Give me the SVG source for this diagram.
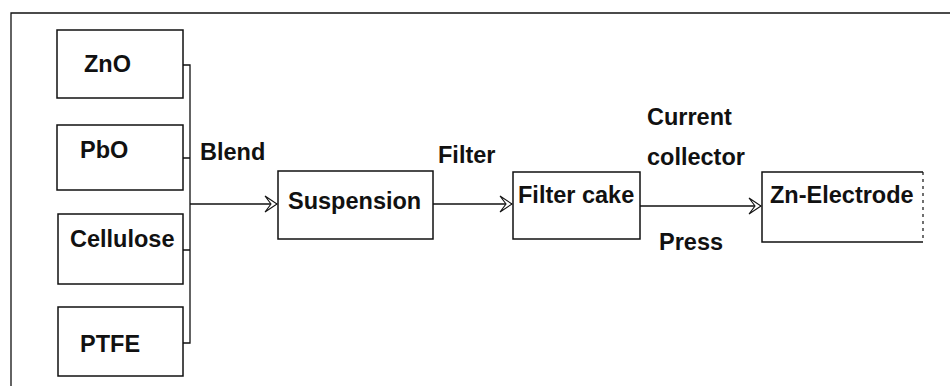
<svg xmlns="http://www.w3.org/2000/svg" width="950" height="386" viewBox="0 0 950 386">
<style>
.box{fill:#fff;stroke:#111;stroke-width:1.5}
.ln{fill:none;stroke:#111;stroke-width:1.3}
text{font-family:"Liberation Sans",Arial,sans-serif;font-weight:bold;font-size:23.5px;fill:#111}
</style>
<defs>
<marker id="ah" markerWidth="14" markerHeight="18" refX="13" refY="9" orient="auto" markerUnits="userSpaceOnUse">
<path d="M1,1 L13,9 L1,17 L7,9 Z" fill="#fff" stroke="#111" stroke-width="1.1" stroke-linejoin="miter"/>
</marker>
</defs>
<rect width="950" height="386" fill="#fff"/>
<path class="ln" d="M11,386 V13 H950" stroke-width="1.6"/>
<g id="n-zno"><rect class="box" x="57" y="30" width="126" height="68"/><text x="84" y="72">ZnO</text></g>
<g id="n-pbo"><rect class="box" x="57" y="125" width="126" height="65"/><text x="80" y="158">PbO</text></g>
<g id="n-cellulose"><rect class="box" x="58" y="214" width="125" height="70"/><text x="70" y="247">Cellulose</text></g>
<g id="n-ptfe"><rect class="box" x="58" y="307" width="125" height="69"/><text x="80" y="352">PTFE</text></g>
<g id="n-suspension"><rect class="box" x="278" y="171" width="155" height="68"/><text x="288" y="209">Suspension</text></g>
<g id="n-filtercake"><rect class="box" x="513" y="172" width="127" height="67"/><text x="518" y="203">Filter cake</text></g>
<g id="n-electrode"><path class="box" d="M923,172 H762 V242 H923"/><path d="M923,172 V242" stroke="#111" stroke-width="1.2" stroke-dasharray="3,4" fill="none"/><text x="770" y="203">Zn-Electrode</text></g>
<g id="connectors">
<path class="ln" d="M183,65 H190 V343 H183 M183,158 H190 M183,250 H190"/>
<path class="ln" d="M190,204 H277" marker-end="url(#ah)"/>
<path class="ln" d="M433,204 H512" marker-end="url(#ah)"/>
<path class="ln" d="M640,206 H761" marker-end="url(#ah)"/>
</g>
<g id="labels">
<text x="200" y="160">Blend</text>
<text x="438" y="163">Filter</text>
<text x="647" y="125">Current</text>
<text x="647" y="165">collector</text>
<text x="659" y="250">Press</text>
</g>
</svg>
